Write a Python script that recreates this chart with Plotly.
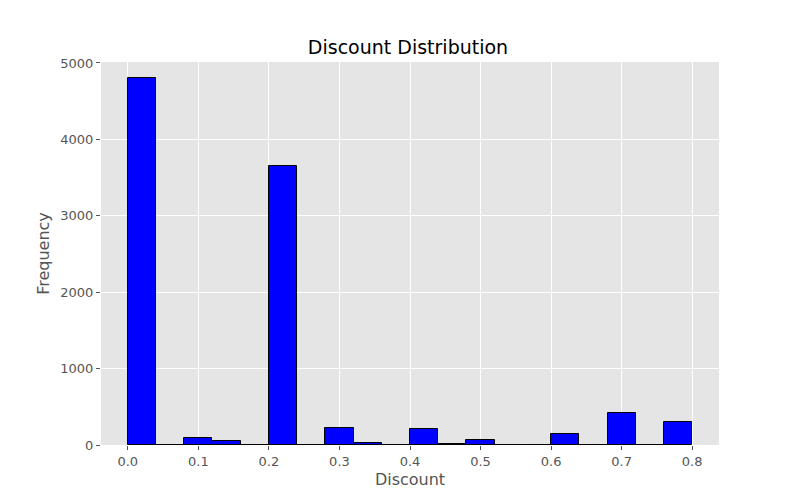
import plotly.graph_objects as go

# histogram of discount, 20 bins from 0.0 to 0.8
bin_left = [0.00, 0.04, 0.08, 0.12, 0.16, 0.20, 0.24, 0.28, 0.32, 0.36,
            0.40, 0.44, 0.48, 0.52, 0.56, 0.60, 0.64, 0.68, 0.72, 0.76]
counts = [4798, 0, 94, 52, 0, 3657, 0, 227, 27, 0,
          206, 11, 66, 0, 0, 138, 0, 418, 0, 300]
bin_width = 0.04
tick_vals = [0.0, 0.1, 0.2, 0.3, 0.4, 0.5, 0.6, 0.7, 0.8]

fig = go.Figure()
fig.add_trace(go.Bar(
    x=[b + bin_width / 2 for b in bin_left], y=counts, width=bin_width,
    marker=dict(color='blue', line=dict(color='black', width=1)),
))

fig.update_layout(
    width=800, height=500,
    margin=dict(l=93, r=89, t=54, b=63),
    paper_bgcolor='white', plot_bgcolor='#E5E5E5',
    title=dict(text='Discount Distribution', x=0.5, xanchor='center', y=0.935,
               font=dict(size=19, color='black', family='DejaVu Sans')),
    font=dict(family='DejaVu Sans', color='#555555', size=13),
    showlegend=False, bargap=0,
)
fig.update_xaxes(range=[-0.038, 0.838], tickvals=tick_vals,
                 ticktext=[f'{v:.1f}' for v in tick_vals],
                 showgrid=True, gridcolor='white', gridwidth=1, zeroline=False,
                 ticks='outside', ticklen=4, tickcolor='#555555',
                 title=dict(text='Discount', font=dict(size=16, color='#555555'), standoff=6))
fig.update_yaxes(range=[0, 5013], tickvals=[0, 1000, 2000, 3000, 4000, 5000],
                 showgrid=True, gridcolor='white', gridwidth=1, zeroline=False,
                 ticks='outside', ticklen=4, tickcolor='#555555',
                 title=dict(text='Frequency', font=dict(size=16, color='#555555'), standoff=6))

fig.write_html("out.html")
